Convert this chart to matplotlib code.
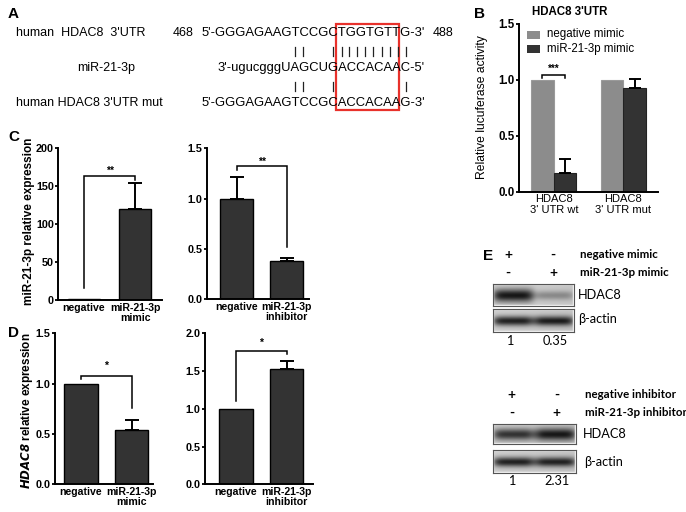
import numpy as np
import matplotlib
matplotlib.use("Agg")
import matplotlib.pyplot as plt
from matplotlib.patches import Rectangle
from matplotlib.lines import Line2D

plt.rcParams['font.family'] = ['Liberation Sans', 'DejaVu Sans']

W, H = 686, 512

# ---------------- data ----------------
# Panel A sequences
seq_rows = ["human  HDAC8  3'UTR", "miR-21-3p", "human HDAC8 3'UTR mut"]
seq_strings = ["5'-GGGAGAAGTCCGCTGGTGTTG-3'", "3'-ugucgggUAGCUGACCACAAC-5'",
               "5'-GGGAGAAGTCCGCACCACAAG-3'"]
seq_start, seq_end = "468", "488"
pipes_top_px = [295, 302.7, 333.3, 341.7, 349.3, 357.3, 365, 373.3, 381.7, 390, 397.7, 406]
pipes_bot_px = [295, 302.7, 333.3, 406]

# Panel B
b_groups = ["HDAC8\n3' UTR wt", "HDAC8\n3' UTR mut"]
b_neg = [1.0, 1.0]
b_mir = [0.17, 0.93]
b_mir_err = [0.12, 0.08]
b_series = ["negative mimic", "miR-21-3p mimic"]

# Panel C
c1_labels = ["negative", "miR-21-3p\nmimic"]
c1_vals = [1.0, 119.0]
c1_err = [0.0, 34.0]
c2_labels = ["negative", "miR-21-3p\ninhibitor"]
c2_vals = [1.0, 0.38]
c2_err = [0.21, 0.03]

# Panel D
d1_labels = ["negative", "miR-21-3p\nmimic"]
d1_vals = [1.0, 0.54]
d1_err = [0.0, 0.10]
d2_labels = ["negative", "miR-21-3p\ninhibitor"]
d2_vals = [1.0, 1.53]
d2_err = [0.0, 0.10]

# Panel E (band intensities / quantification)
e_mimic_hdac8 = [1.0, 0.35]
e_mimic_actin = [0.95, 0.95]
e_inhib_hdac8 = [0.85, 0.97]
e_inhib_actin = [0.95, 0.92]
e_mimic_quant = ["1", "0.35"]
e_inhib_quant = ["1", "2.31"]

# ---------------- helpers ----------------
fig = plt.figure(figsize=(W / 100, H / 100), dpi=100)


def rect(x0, ytop, x1, ybot):
    return [x0 / W, 1 - ybot / H, (x1 - x0) / W, (ybot - ytop) / H]


def ftext(x, y, s, **kw):
    kw.setdefault('va', 'center')
    kw.setdefault('ha', 'left')
    return fig.text(x / W, 1 - y / H, s, **kw)


def style_axes(ax, ticks, ylim, xlim, fs=7.8):
    ax.set_ylim(*ylim)
    ax.set_xlim(*xlim)
    for s in ['top', 'right']:
        ax.spines[s].set_visible(False)
    for s in ['left', 'bottom']:
        ax.spines[s].set_linewidth(1.4)
    ax.set_yticks(ticks)
    ax.tick_params(axis='y', direction='out', length=2.2, width=1.3, pad=1.0, labelsize=fs)
    ax.tick_params(axis='x', length=0, pad=2)
    for t in ax.get_yticklabels():
        t.set_fontweight('bold')


def bracket(ax, x1, x2, y, yl1, yl2, text, ty, fs=7.5):
    ax.plot([x1, x1, x2, x2], [yl1, y, y, yl2], color='black', lw=1.1,
            solid_joinstyle='miter', clip_on=False)
    ax.text((x1 + x2) / 2, ty, text, ha='center', va='center',
            fontsize=fs, fontweight='bold', clip_on=False)


def bars(ax, vals, errs, labels, width, dec):
    x = np.arange(len(vals))
    ax.bar(x, vals, width=width, color='#333333', edgecolor='black', lw=1.0, zorder=2)
    for xi, v, e in zip(x, vals, errs):
        if e > 0:
            ax.errorbar(xi, v, yerr=[[0], [e]], fmt='none', ecolor='black',
                        elinewidth=1.4, capsize=5, capthick=1.4, zorder=3)
    ax.set_xticks(x)
    ax.set_xticklabels(labels, fontweight='bold', linespacing=1.05, fontsize=7.6)
    ax.yaxis.set_major_formatter(matplotlib.ticker.FuncFormatter(
        lambda v, p: f"{v:.{dec}f}"))


# ---------------- Panel A ----------------
ftext(8, 14, "A", fontsize=11, fontweight='bold')
fsA = 9
fsS = 9.4
ftext(16, 33, seq_rows[0], fontsize=fsA)
ftext(77, 68, seq_rows[1], fontsize=fsA)
ftext(16, 103, seq_rows[2], fontsize=fsA)
ftext(173, 33, seq_start, fontsize=fsA)
ftext(202, 33, seq_strings[0], fontsize=fsS)
ftext(217, 68, seq_strings[1], fontsize=fsS)
ftext(202, 103, seq_strings[2], fontsize=fsS)
ftext(433, 33, seq_end, fontsize=fsA)
for px in pipes_top_px:
    fig.add_artist(Line2D([px / W, px / W], [1 - 47 / H, 1 - 56 / H], color='#222222', lw=0.9))
for px in pipes_bot_px:
    fig.add_artist(Line2D([px / W, px / W], [1 - 82 / H, 1 - 91 / H], color='#222222', lw=0.9))
fig.add_artist(Rectangle((336 / W, 1 - 110 / H), 63 / W, 86 / H, transform=fig.transFigure,
                         fill=False, edgecolor='#e8312b', lw=1.6))

# ---------------- Panel B ----------------
ftext(474, 13.5, "B", fontsize=11, fontweight='bold')
ftext(570, 12, "HDAC8 3'UTR", fontsize=8.3, fontweight='bold', ha='center')
axB = fig.add_axes(rect(519, 24, 658, 191.7))
xb = np.arange(len(b_groups))
off = 0.165
bw = 0.324
axB.bar(xb - off, b_neg, width=bw, color='#8c8c8c', edgecolor='#9a9a9a', lw=0.8, zorder=2)
axB.bar(xb + off, b_mir, width=bw, color='#333333', edgecolor='#222222', lw=0.8, zorder=2)
for xi, v, e in zip(xb + off, b_mir, b_mir_err):
    axB.errorbar(xi, v, yerr=[[0], [e]], fmt='none', ecolor='black', elinewidth=1.4,
                 capsize=4.5, capthick=1.4, zorder=3)
style_axes(axB, [0, 0.5, 1.0, 1.5], (0, 1.5), (-0.5, 1.5), fs=8.3)
axB.yaxis.set_major_formatter(matplotlib.ticker.FuncFormatter(lambda v, p: f"{v:.1f}"))
axB.set_xticks(xb)
axB.set_xticklabels(b_groups, fontsize=8, linespacing=1.1)
ftext(482, 107, "Relative lucuferase activity", fontsize=8.7, rotation=90, ha='center')
bracket(axB, -off, off, 1.045, 1.015, 1.015, "***", 1.10, fs=7)
# legend
fig.add_artist(Rectangle((527 / W, 1 - 38.5 / H), 13 / W, 8 / H, transform=fig.transFigure,
                         facecolor='#8c8c8c', edgecolor='none'))
fig.add_artist(Rectangle((527 / W, 1 - 53 / H), 13 / W, 8 / H, transform=fig.transFigure,
                         facecolor='#333333', edgecolor='none'))
ftext(547, 34.5, b_series[0], fontsize=8.3)
ftext(547, 49, b_series[1], fontsize=8.3)

# ---------------- Panel C ----------------
ftext(8, 137, "C", fontsize=11, fontweight='bold')
axC1 = fig.add_axes(rect(58.3, 147.7, 161.7, 300))
bars(axC1, c1_vals, c1_err, c1_labels, 0.624, 0)
style_axes(axC1, [0, 50, 100, 150, 200], (0, 200), (-0.5, 1.515))
bracket(axC1, 0, 1, 162.8, 15.8, 157.5, "**", 169.5)
ftext(29, 221, "miR-21-3p relative expression", fontsize=8.5, fontweight='bold',
      rotation=90, ha='center')

axC2 = fig.add_axes(rect(206.7, 148.3, 309, 299.3))
bars(axC2, c2_vals, c2_err, c2_labels, 0.667, 1)
style_axes(axC2, [0, 0.5, 1.0, 1.5], (0, 1.5), (-0.6, 1.446))
bracket(axC2, 0, 1, 1.324, 1.28, 0.52, "**", 1.37)

# ---------------- Panel D ----------------
ftext(8, 333, "D", fontsize=11, fontweight='bold')
axD1 = fig.add_axes(rect(55, 333.3, 153.3, 484.3))
bars(axD1, d1_vals, d1_err, d1_labels, 0.66, 1)
style_axes(axD1, [0, 0.5, 1.0, 1.5], (0, 1.5), (-0.513, 1.426))
bracket(axD1, 0, 1, 1.08, 1.05, 0.755, "*", 1.18)
ftext(27, 411, r"$\mathbfit{HDAC8}$ relative expression", fontsize=8.5, fontweight='bold',
      rotation=90, ha='center')

axD2 = fig.add_axes(rect(205, 333.3, 313.3, 484.3))
bars(axD2, d2_vals, d2_err, d2_labels, 0.66, 1)
style_axes(axD2, [0, 0.5, 1.0, 1.5, 2.0], (0, 2.0), (-0.61, 1.525))
bracket(axD2, 0, 1, 1.77, 1.10, 1.72, "*", 1.875)

# ---------------- Panel E ----------------
efont = ['Lato', 'DejaVu Sans']


def blot(x0, ytop, x1, ybot, amps, sig):
    ax = fig.add_axes(rect(x0, ytop, x1, ybot))
    ny, nx = 60, 220
    yy, xx = np.mgrid[0:ny, 0:nx]
    yf = yy / (ny - 1)
    xf = xx / (nx - 1)
    img = np.full((ny, nx), 0.82) - 0.04 * xf
    for cx, a in zip([0.25, 0.75], amps):
        prof_x = np.exp(-((xf - cx) / 0.25) ** 6)
        prof_y = np.exp(-((yf - 0.52) / (sig * (0.55 + 0.45 * a))) ** 2)
        img = img - a * 0.72 * prof_x * prof_y
    img = np.clip(img, 0.05, 1)
    b = 3
    img[:b, :] = 0.96
    img[-b:, :] = 0.96
    img[:, :b] = 0.96
    img[:, -b:] = 0.96
    ax.imshow(img, cmap='gray', vmin=0, vmax=1, aspect='auto', interpolation='bilinear')
    ax.set_xticks([])
    ax.set_yticks([])
    for s in ax.spines.values():
        s.set_edgecolor('#555555')
        s.set_linewidth(0.8)
    return ax


ftext(483, 256, "E", fontsize=11, fontweight='bold')
fsE = 8.3
for (xp, xm, y1, y2, lab1, lab2, lx) in [
        (508.3, 553.3, 255, 272.7, "negative mimic", "miR-21-3p mimic", 580),
        (511.7, 556.7, 395, 413, "negative inhibitor", "miR-21-3p inhibitor", 585)]:
    ftext(xp, y1, "+", fontsize=10, fontweight='bold', ha='center', family=efont)
    ftext(xm, y1, "-", fontsize=10, fontweight='bold', ha='center', family=efont)
    ftext(xp, y2, "-", fontsize=10, fontweight='bold', ha='center', family=efont)
    ftext(xm, y2, "+", fontsize=10, fontweight='bold', ha='center', family=efont)
    ftext(lx, y1, lab1, fontsize=fsE, fontweight='bold', family=efont)
    ftext(lx, y2, lab2, fontsize=fsE, fontweight='bold', family=efont)

blot(493.3, 284, 574.3, 306, e_mimic_hdac8, 0.30)
blot(493.3, 309, 574.3, 331.7, e_mimic_actin, 0.22)
blot(493.3, 424, 575.7, 444, e_inhib_hdac8, 0.32)
blot(493.3, 450, 575.7, 472.7, e_inhib_actin, 0.22)
fsL = 9.2
ftext(578.3, 295, "HDAC8", fontsize=fsL, family=efont)
ftext(578.3, 319, "β-actin", fontsize=fsL, family=efont)
ftext(583.3, 434.3, "HDAC8", fontsize=fsL, family=efont)
ftext(584, 461.7, "β-actin", fontsize=fsL, family=efont)
ftext(510, 341, e_mimic_quant[0], fontsize=fsL, ha='center', family=efont)
ftext(555, 341, e_mimic_quant[1], fontsize=fsL, ha='center', family=efont)
ftext(511.7, 481, e_inhib_quant[0], fontsize=fsL, ha='center', family=efont)
ftext(556.7, 481, e_inhib_quant[1], fontsize=fsL, ha='center', family=efont)

fig.savefig("out.png", dpi=100)
